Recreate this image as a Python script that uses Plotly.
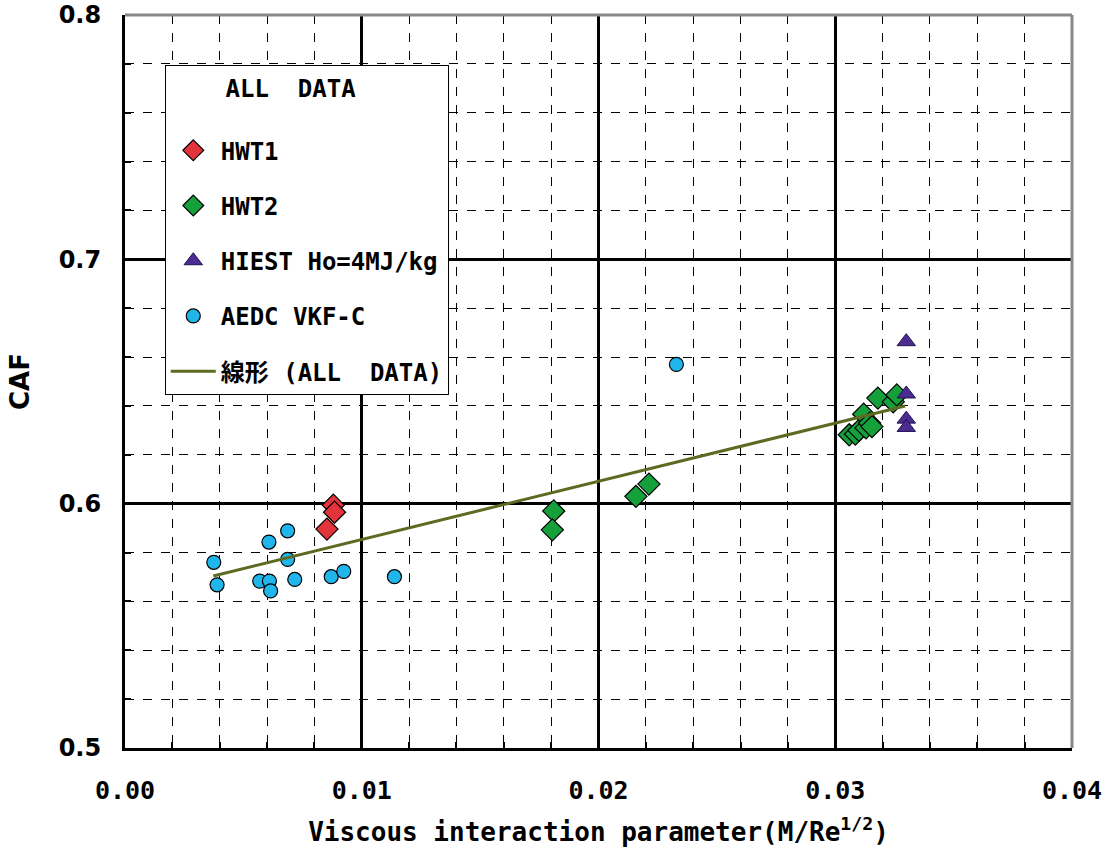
import plotly.graph_objects as go

# ---- data ----
hwt1_x = [0.00880, 0.00885, 0.00853]
hwt1_y = [0.5994, 0.5965, 0.5896]

hwt2_x = [0.01811, 0.01805, 0.02158, 0.02213,
          0.03059, 0.03085, 0.03100, 0.03120, 0.03130, 0.03145,
          0.03155, 0.03180, 0.03245, 0.03260]
hwt2_y = [0.5970, 0.5893, 0.6030, 0.6080,
          0.6282, 0.6285, 0.6300, 0.6366, 0.6310, 0.6330,
          0.6315, 0.6432, 0.6417, 0.6445]

hiest_x = [0.03300, 0.03300, 0.03300, 0.03300]
hiest_y = [0.6663, 0.6449, 0.6346, 0.6312]

aedc_x = [0.00375, 0.00389, 0.00569, 0.00610, 0.00615, 0.00608, 0.00687,
          0.00687, 0.00717, 0.00871, 0.00924, 0.01138, 0.02329]
aedc_y = [0.5760, 0.5668, 0.5683, 0.5683, 0.5643, 0.5843, 0.5889,
          0.5772, 0.5690, 0.5701, 0.5723, 0.5701, 0.6570]

trend_x = [0.00373, 0.03295]
trend_y = [0.5704, 0.6400]

x_ticks = [0.00, 0.01, 0.02, 0.03, 0.04]
x_ticklabels = ["0.00", "0.01", "0.02", "0.03", "0.04"]
y_ticks = [0.5, 0.6, 0.7, 0.8]
y_ticklabels = ["0.5", "0.6", "0.7", "0.8"]

legend_title = "ALL  DATA"
names = ["HWT1", "HWT2", "HIEST Ho=4MJ/kg", "AEDC VKF-C", "線形 (ALL  DATA)"]

MONO = "DejaVu Sans Mono, Noto Sans CJK JP, monospace"
WIDE = "DejaVu Sans, sans-serif"

fig = go.Figure()
fig.add_trace(go.Scatter(x=hwt1_x, y=hwt1_y, mode="markers", name=names[0], legendgroup="a",
                         marker=dict(symbol="diamond", size=17, color="#E2343A",
                                     line=dict(color="black", width=1.2))))
fig.add_trace(go.Scatter(x=hwt2_x, y=hwt2_y, mode="markers", name=names[1], legendgroup="b",
                         marker=dict(symbol="diamond", size=17, color="#16A03C",
                                     line=dict(color="black", width=1.2))))
fig.add_trace(go.Scatter(x=hiest_x, y=hiest_y, mode="markers", name=names[2], legendgroup="c",
                         marker=dict(symbol="triangle-up", size=16, color="#4B2C91",
                                     line=dict(color="#24124f", width=1))))
fig.add_trace(go.Scatter(x=aedc_x, y=aedc_y, mode="markers", name=names[3], legendgroup="d",
                         marker=dict(symbol="circle", size=14, color="#20B6EC",
                                     line=dict(color="black", width=1.2))))
fig.add_trace(go.Scatter(x=trend_x, y=trend_y, mode="lines", name=names[4], legendgroup="e",
                         line=dict(color="#5C6B22", width=3)))

fig.update_layout(
    width=1103, height=852,
    margin=dict(l=125, r=31, t=15, b=104),
    paper_bgcolor="white", plot_bgcolor="white",
    showlegend=True,
    legend=dict(
        x=0.042, y=0.932, xanchor="left", yanchor="top",
        bgcolor="white", bordercolor="black", borderwidth=1,
        font=dict(family=MONO, size=24, color="black", weight="bold"),
        title=dict(text="    " + legend_title + "<br> ",
                   font=dict(family=MONO, size=24, weight="bold")),
        tracegroupgap=21, itemwidth=45,
    ),
    xaxis=dict(
        range=[0, 0.04], tickvals=x_ticks, ticktext=x_ticklabels,
        automargin=False, ticklabeloverflow="allow",
        showgrid=True, gridcolor="black", gridwidth=2.5,
        showline=True, linecolor="black", linewidth=3,
        ticks="inside", ticklen=8, tickcolor="black", tickwidth=2,
        minor=dict(dtick=0.002, showgrid=True, gridcolor="black", griddash="dash",
                   gridwidth=1, ticks="inside", ticklen=6, tickcolor="black"),
        tickfont=dict(family=MONO, size=25, color="black", weight="bold"),
        ticklabelstandoff=18,
        title=dict(text="Viscous interaction parameter(M/Re<sup>1/2</sup>)",
                   font=dict(family=MONO, size=26, color="black", weight="bold"),
                   standoff=19),
        zeroline=False,
    ),
    yaxis=dict(
        range=[0.5, 0.8], tickvals=y_ticks, ticktext=y_ticklabels,
        automargin=False, ticklabeloverflow="allow",
        showgrid=True, gridcolor="black", gridwidth=2.5,
        showline=True, linecolor="black", linewidth=3,
        ticks="inside", ticklen=8, tickcolor="black", tickwidth=2,
        minor=dict(dtick=0.02, showgrid=True, gridcolor="black", griddash="dash",
                   gridwidth=1, ticks="inside", ticklen=6, tickcolor="black"),
        tickfont=dict(family=WIDE, size=24, color="black", weight="bold"),
        ticklabelstandoff=16,
        title=dict(text="CAF", font=dict(family=WIDE, size=26, color="black", weight="bold"),
                   standoff=22),
        zeroline=False,
    ),
)

# top and right frame (gray with dark edge)
fig.add_shape(type="line", xref="paper", yref="paper", x0=0, x1=1, y0=1, y1=1,
              line=dict(color="#888888", width=3), layer="above")
fig.add_shape(type="line", xref="paper", yref="paper", x0=1, x1=1, y0=0, y1=1,
              line=dict(color="#888888", width=3), layer="above")

fig.write_html("out.html")
